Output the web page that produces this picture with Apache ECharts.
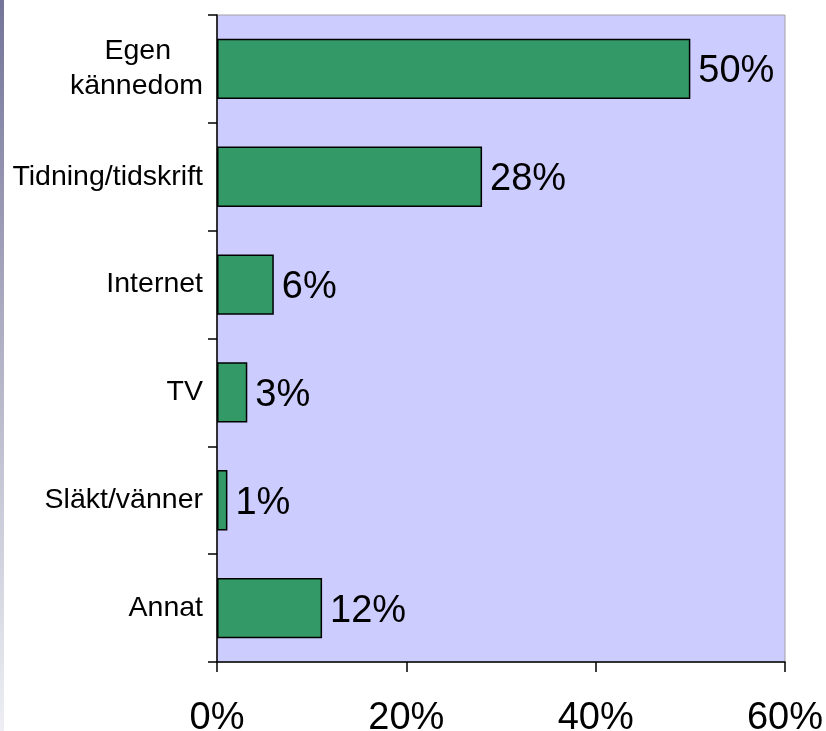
<!DOCTYPE html>
<html>
<head>
<meta charset="utf-8">
<script src="https://cdn.jsdelivr.net/npm/echarts@6/dist/echarts.min.js"></script>
<style>html,body{margin:0;padding:0;background:#fff}#c{width:826px;height:731px}</style>
</head>
<body>
<div id="c"></div>
<script>
const categories = ["Egen\nkännedom", "Tidning/tidskrift", "Internet", "TV", "Släkt/vänner", "Annat"];
const values = [50, 28, 6, 3.2, 1.1, 11.1];
const valueLabels = ["50%", "28%", "6%", "3%", "1%", "12%"];
const xTicks = [0, 20, 40, 60];

const chart = echarts.init(document.getElementById('c'));
const FONT = '"Liberation Sans", Arial, sans-serif';
chart.setOption({
  animation: false,
  backgroundColor: '#ffffff',
  graphic: [{
    type: 'rect', left: 0, top: 0, shape: {x: 0, y: 0, width: 4, height: 731},
    style: {fill: new echarts.graphic.LinearGradient(0, 0, 0, 1, [
      {offset: 0, color: '#74749a'}, {offset: 0.5, color: '#b4b4c8'}, {offset: 1, color: '#eeeef4'}])},
    silent: true
  }],
  grid: {left: 217, right: 41, top: 15, bottom: 69, show: true, backgroundColor: '#CCCCFF', borderColor: '#a0a0a0', borderWidth: 1,
    containLabel: false, outerBoundsMode: 'none'},
  xAxis: {
    type: 'value', min: 0, max: 60, interval: 20,
    splitLine: {show: false},
    axisLine: {show: true, lineStyle: {color: '#000', width: 1.5}},
    axisTick: {show: true, length: 10, lineStyle: {color: '#000', width: 1.5}},
    axisLabel: {margin: 38, fontSize: 38, color: '#000', fontFamily: FONT, hideOverlap: false,
      formatter: v => xTicks.includes(v) ? v + '%' : ''}
  },
  yAxis: {
    type: 'category', data: categories, inverse: true,
    axisLine: {show: true, lineStyle: {color: '#000', width: 1.5}},
    axisTick: {show: true, length: 9, lineStyle: {color: '#000', width: 1.5}},
    axisLabel: {margin: 14, fontSize: 28.5, color: '#000', fontFamily: FONT, lineHeight: 35,
      formatter: function (v) {
        if (v.indexOf('\n') >= 0) {
          const p = v.split('\n');
          return '{a|' + p[0] + '}\n{b|' + p[1] + '}';
        }
        return v;
      },
      rich: {
        a: {fontSize: 28.5, fontFamily: FONT, color: '#000', lineHeight: 35, padding: [0, 32, 0, 0]},
        b: {fontSize: 28.5, fontFamily: FONT, color: '#000', lineHeight: 35}
      }
    }
  },
  series: [{
    type: 'bar', data: values, barCategoryGap: '44%',
    itemStyle: {color: '#339966', borderColor: '#000', borderWidth: 1.5},
    label: {show: true, position: 'right', distance: 8, offset: [0, 3], fontSize: 38, color: '#000', fontFamily: FONT,
      formatter: p => valueLabels[p.dataIndex]}
  }]
});
</script>
</body>
</html>
